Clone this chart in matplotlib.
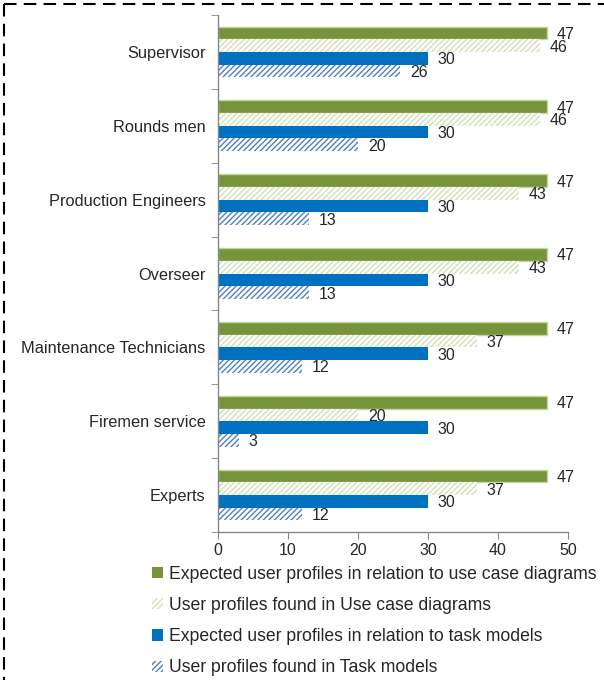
import matplotlib
matplotlib.use("Agg")
import matplotlib.pyplot as plt
import numpy as np
from matplotlib.patches import Patch
from matplotlib.lines import Line2D

categories = ["Supervisor", "Rounds men", "Production Engineers", "Overseer",
              "Maintenance Technicians", "Firemen service", "Experts"]
expected_ucd = [47, 47, 47, 47, 47, 47, 47]
found_ucd = [46, 46, 43, 43, 37, 20, 37]
expected_tm = [30, 30, 30, 30, 30, 30, 30]
found_tm = [26, 20, 13, 13, 12, 3, 12]
series_names = ["Expected user profiles in relation to use case diagrams",
                "User profiles found in Use case diagrams",
                "Expected user profiles in relation to task models",
                "User profiles found in Task models"]
xticks = [0, 10, 20, 30, 40, 50]

plt.rcParams['font.family'] = ['Liberation Sans', 'DejaVu Sans']
plt.rcParams['hatch.linewidth'] = 1.0

W, H = 604, 680
fig = plt.figure(figsize=(W / 100, H / 100), dpi=100)
ax = fig.add_axes([218 / W, 1 - 532 / H, (568 - 218) / W, (532 - 15) / H])

GREEN = "#77933C"
GREEN_EDGE = "#C3D69B"
LGREEN = "#D2E0B6"
BLUE = "#0070C0"
LBLUE = "#4F81BD"
TXT = "#262626"

y = np.arange(len(categories))
h = 0.172
styles = [
    dict(color=GREEN, edgecolor=GREEN_EDGE, linewidth=1.0),
    dict(color="white", edgecolor=LGREEN, linewidth=0, hatch="//////"),
    dict(color=BLUE, edgecolor=BLUE, linewidth=0),
    dict(color="white", edgecolor=LBLUE, linewidth=0, hatch="//////"),
]
data = [expected_ucd, found_ucd, expected_tm, found_tm]
offsets = [-1.5 * h, -0.5 * h, 0.5 * h, 1.5 * h]
for vals, st, off in zip(data, styles, offsets):
    ax.barh(y + off, vals, height=h, **st)
    for yy, v in zip(y + off, vals):
        ax.text(v + 1.4, yy + 0.02, str(v), va="center", ha="left", fontsize=11.5, color=TXT)

ax.set_xlim(0, 50)
ax.set_ylim(len(categories) - 0.5, -0.5)
ax.set_xticks(xticks)
ax.set_xticklabels([str(t) for t in xticks], fontsize=11.5, color=TXT)
ax.set_yticks(y)
ax.set_yticklabels(categories, fontsize=11.75, color=TXT)
ax.set_yticks(np.arange(-0.5, len(categories), 1.0), minor=True)
ax.tick_params(axis="y", which="major", length=0, pad=9)
ax.tick_params(axis="y", which="minor", length=5, color="#868686", direction="out")
ax.tick_params(axis="x", length=5, color="#868686", direction="out", pad=3)
for s in ["top", "right"]:
    ax.spines[s].set_visible(False)
for s in ["left", "bottom"]:
    ax.spines[s].set_color("#868686")
    ax.spines[s].set_linewidth(1.0)

handles = [Patch(facecolor=st["color"], edgecolor=st["edgecolor"], hatch=st.get("hatch"),
                 linewidth=0) for st in styles]
leg = fig.legend(handles, series_names, loc="upper left",
                 bbox_to_anchor=(152 / W, 1 - 566 / H), frameon=False,
                 fontsize=12.7, handlelength=0.6, handleheight=0.6,
                 handletextpad=0.35, labelspacing=0.8, borderaxespad=0, borderpad=0)
for t in leg.get_texts():
    t.set_color(TXT)

# dashed border (top and left)
fig.add_artist(Line2D([4 / W, 1.0], [1 - 4 / H, 1 - 4 / H], transform=fig.transFigure,
                      color="black", linewidth=1.5, linestyle=(0, (6, 3.5))))
fig.add_artist(Line2D([4 / W, 4 / W], [1 - 4 / H, 0], transform=fig.transFigure,
                      color="black", linewidth=1.5, linestyle=(0, (6, 3.5))))

fig.savefig("out.png", dpi=100)
